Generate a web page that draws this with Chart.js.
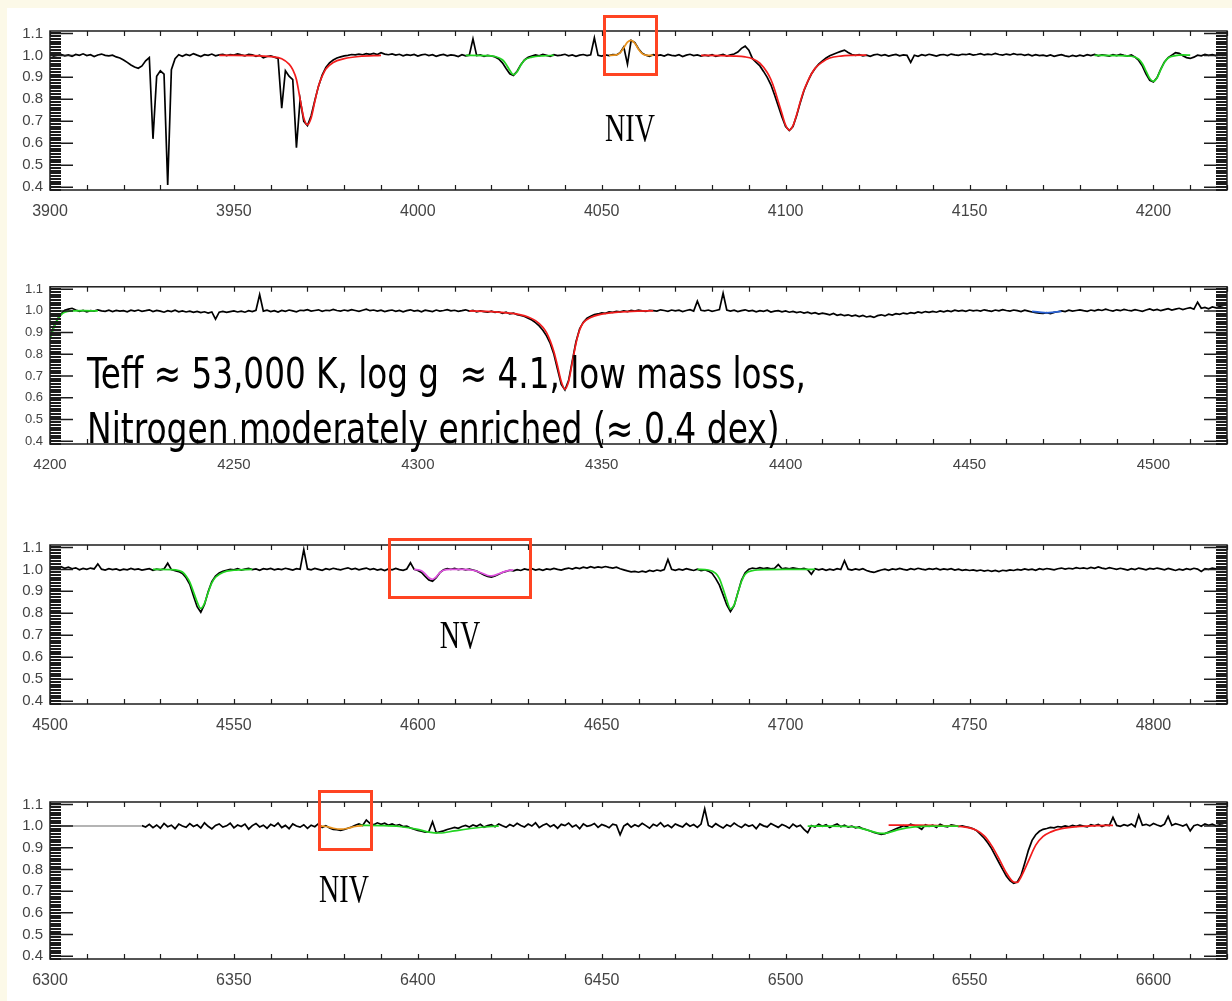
<!DOCTYPE html>
<html>
<head>
<meta charset="utf-8">
<script src="https://cdn.jsdelivr.net/npm/chart.js@4.4.1/dist/chart.umd.min.js"></script>
<style>
  html, body { margin: 0; padding: 0; }
  body { width: 1232px; height: 1001px; background: #fcf9e8; position: relative; overflow: hidden; }
  #sheet { position: absolute; left: 7px; top: 8px; right: 0; bottom: 0; background: #fff; }
  canvas.panel { position: absolute; left: 0; }
  .box { position: absolute; border: 3px solid #ff4422; box-sizing: border-box; }
  .ion { position: absolute; font-family: "Liberation Serif", "Times New Roman", serif; font-size: 28px; line-height: 28px; color: #000; white-space: nowrap; transform: translate(-50%, -50%) scale(1, 1.4); }
  .note { position: absolute; left: 87px; font-family: "DejaVu Sans Condensed", "DejaVu Sans", sans-serif; font-size: 42px; line-height: 42px; color: #000; white-space: nowrap; transform-origin: 0 50%; }
</style>
</head>
<body>
<div id="sheet"></div>

<script>
// y axis (normalised flux), shared by all four panels
const Y_MIN = 0.387, Y_MAX = 1.111;
const yTickValues = [0.4, 0.5, 0.6, 0.7, 0.8, 0.9, 1.0, 1.1];
const yTickLabels = ['0.4', '0.5', '0.6', '0.7', '0.8', '0.9', '1.0', '1.1'];
const X_SPAN = 320; // Angstrom shown per panel

// ---- panel 1 : 3900-4220 A, observed flux x1000 at 1 A steps ----
const p1Start = 3900;
const p1Ticks = [3900, 3950, 4000, 4050, 4100, 4150, 4200];
const p1Flux = [
  1003, 997, 1001, 1005, 998, 1002, 996, 1004, 1000, 1007,   // 3900
  999, 1003, 995, 1002, 1006, 1000, 998, 1001, 993, 988,     // 3910
  979, 968, 956, 947, 941, 952, 975, 990, 620, 905,          // 3920
  930, 915, 410, 935, 985, 1003, 996, 1004, 999, 1008,       // 3930
  1001, 995, 1003, 1000, 1006, 998, 1002, 1005, 999, 1004,   // 3940
  1001, 1007, 1002, 998, 1005, 1003, 996, 1001, 989, 995,    // 3950
  998, 992, 986, 760, 930, 905, 890, 580, 800, 700,          // 3960
  680, 725, 795, 860, 910, 945, 966, 979, 988, 993,          // 3970
  998, 1000, 1004, 1002, 1006, 1003, 1008, 1005, 1009, 1004, // 3980
  1012, 1006, 1003, 1007, 1001, 1005, 998, 1003, 1000, 1004, // 3990
  997, 1002, 1005, 999, 1003, 996, 1001, 1004, 998, 1002,    // 4000
  1000, 995, 1003, 998, 1001, 1075, 999, 1002, 996, 1000,    // 4010
  997, 993, 984, 966, 940, 916, 909, 928, 958, 979,          // 4020
  991, 997, 1002, 998, 1004, 1000, 996, 1003, 999, 1001,     // 4030
  1005, 998, 1002, 996, 1001, 1004, 999, 1003, 1080, 1000,   // 4040
  997, 1002, 999, 1004, 1002, 1012, 1038, 960, 1068, 1058,   // 4050
  1030, 1010, 1001, 996, 1003, 999, 1002, 997, 1004, 1000,   // 4060
  998, 1003, 995, 1001, 1005, 999, 1002, 997, 1001, 998,     // 4070
  1003, 996, 1000, 1004, 997, 1002, 1006, 1015, 1032, 1042,  // 4080
  1024, 985, 968, 952, 927, 900, 866, 820, 770, 720,         // 4090
  676, 658, 676, 726, 786, 840, 880, 915, 940, 960,          // 4100
  975, 988, 998, 1005, 1012, 1018, 1024, 1013, 1004, 1000,   // 4110
  1003, 998, 1001, 996, 1002, 1005, 999, 1003, 997, 1001,    // 4120
  1004, 998, 1002, 1000, 968, 1001, 996, 1003, 999, 1005,    // 4130
  1001, 997, 1002, 1004, 999, 1006, 1002, 1000, 1005, 1003,  // 4140
  1007, 1001, 1004, 1008, 1002, 1006, 1003, 1009, 1004, 1001, // 4150
  1006, 1002, 1008, 1003, 1005, 1000, 1004, 998, 1003, 999,  // 4160
  1001, 997, 1002, 996, 1000, 1003, 998, 994, 1000, 996,     // 4170
  1001, 997, 1003, 999, 1004, 998, 1002, 1000, 997, 1003,    // 4180
  999, 1004, 1000, 997, 1002, 992, 977, 951, 915, 886,       // 4190
  879, 899, 938, 970, 990, 1001, 1012, 1009, 998, 990,       // 4200
  986, 992, 1001, 998, 1004, 1000, 1003, 999, 1002, 1000     // 4210
];
// model fits, [wavelength, flux x1000]
const p1HepsFit = [[3946, 1000], [3950, 1000], [3955, 999], [3960, 994], [3963, 985], [3965, 960], [3966, 935], [3967, 890], [3968, 800], [3969, 715], [3970, 684], [3971, 715], [3972, 790], [3973, 860], [3974, 905], [3975, 938], [3977, 968], [3980, 985], [3984, 995], [3990, 1000]];
const p1HeIFit = [[4013, 1000], [4018, 999], [4021, 995], [4023, 980], [4024, 960], [4025, 932], [4026, 912], [4027, 925], [4028, 955], [4029, 978], [4031, 992], [4034, 998], [4037, 1000]];
const p1NIVFit = [[4052, 1000], [4054, 1002], [4055, 1012], [4056, 1035], [4057, 1060], [4058, 1068], [4059, 1055], [4060, 1028], [4061, 1008], [4062, 1001], [4064, 1000]];
const p1HdelFit = [[4077, 1000], [4082, 999], [4086, 997], [4089, 993], [4091, 985], [4093, 965], [4095, 922], [4096, 890], [4097, 845], [4098, 790], [4099, 735], [4100, 682], [4101, 660], [4102, 680], [4103, 730], [4104, 790], [4105, 842], [4106, 882], [4107, 915], [4108, 941], [4110, 970], [4112, 988], [4115, 997], [4118, 1000], [4122, 1001]];
const p1HeII4200Fit = [[4184, 1000], [4190, 999], [4194, 996], [4196, 983], [4197, 962], [4198, 928], [4199, 895], [4200, 882], [4201, 898], [4202, 935], [4203, 968], [4204, 988], [4206, 999], [4208, 1002], [4210, 1001]];

// ---- panel 2 : 4200-4520 A ----
const p2Start = 4200;
const p2Ticks = [4200, 4250, 4300, 4350, 4400, 4450, 4500];
const p2Flux = [
  880, 925, 962, 986, 1003, 1008, 1012, 1004, 998, 1002,     // 4200
  996, 1001, 999, 1005, 1000, 998, 1003, 997, 1002, 999,     // 4210
  1001, 996, 1003, 999, 1004, 998, 1001, 1005, 997, 1002,    // 4220
  999, 994, 1001, 997, 1003, 996, 1000, 995, 999, 993,       // 4230
  998, 992, 996, 990, 995, 962, 994, 998, 993, 997,          // 4240
  1000, 995, 999, 994, 1001, 997, 1003, 1075, 999, 1003,     // 4250
  997, 1001, 995, 1002, 998, 1004, 1000, 996, 1003, 1001,    // 4260
  1006, 999, 1002, 1005, 998, 1003, 1001, 1007, 1002, 999,   // 4270
  1004, 1000, 1006, 1002, 998, 1003, 1008, 1001, 1004, 999,  // 4280
  1003, 997, 1001, 1004, 998, 1002, 996, 1001, 1005, 999,    // 4290
  1002, 996, 1003, 1000, 997, 1004, 999, 1002, 1006, 1000,   // 4300
  1003, 998, 1001, 1005, 999, 1002, 996, 1000, 997, 994,     // 4310
  999, 993, 996, 989, 994, 986, 990, 983, 979, 974,          // 4320
  966, 958, 946, 931, 911, 885, 850, 800, 730, 662,          // 4330
  636, 680, 770, 858, 918, 948, 966, 975, 983, 986,          // 4340
  991, 989, 995, 993, 998, 996, 1000, 997, 1002, 999,        // 4350
  1004, 1000, 998, 1003, 1001, 999, 1005, 1002, 998, 1004,   // 4360
  1000, 1003, 997, 1002, 1006, 999, 1045, 1003, 1000, 1004,  // 4370
  998, 1002, 1006, 1082, 1004, 999, 1003, 997, 1001, 1005,   // 4380
  999, 1002, 996, 1001, 998, 1003, 995, 999, 1001, 996,      // 4390
  1000, 994, 998, 992, 996, 990, 994, 988, 992, 985,         // 4400
  990, 986, 982, 988, 980, 984, 978, 982, 976, 980,          // 4410
  974, 979, 972, 976, 970, 978, 982, 977, 985, 981,          // 4420
  987, 984, 990, 986, 992, 989, 995, 991, 997, 993,          // 4430
  998, 994, 1000, 996, 1001, 997, 1003, 999, 1002, 998,      // 4440
  1004, 1000, 1003, 999, 1005, 1001, 998, 1004, 1000, 1006,  // 4450
  1002, 999, 1004, 1001, 997, 1003, 999, 995, 992, 990,      // 4460
  988, 992, 987, 993, 996, 1000, 997, 1003, 999, 1002,       // 4470
  1005, 1001, 998, 1004, 1000, 1006, 1002, 1008, 1003, 999,  // 4480
  1005, 1001, 1007, 1003, 1000, 1006, 1002, 998, 1004, 1009, // 4490
  1003, 1007, 1001, 1006, 1010, 1004, 1008, 1012, 1006, 1011, // 4500
  1015, 1008, 1040, 1012, 1016, 1010, 1018, 1014, 1020, 1015  // 4510
];
const p2HeII4200Fit = [[4200, 870], [4201, 920], [4202, 958], [4203, 982], [4204, 994], [4206, 1000], [4209, 1001], [4213, 1000]];
const p2HgamFit = [[4314, 1000], [4320, 997], [4325, 990], [4328, 982], [4330, 972], [4332, 955], [4334, 925], [4335, 900], [4336, 862], [4337, 812], [4338, 745], [4339, 675], [4340, 640], [4341, 675], [4342, 762], [4343, 850], [4344, 912], [4345, 945], [4347, 970], [4350, 985], [4355, 995], [4360, 999], [4364, 1000]];
const p2HeI4471Fit = [[4467, 998], [4469, 994], [4471, 991], [4473, 994], [4475, 998]];

// ---- panel 3 : 4500-4820 A ----
const p3Start = 4500;
const p3Ticks = [4500, 4550, 4600, 4650, 4700, 4750, 4800];
const p3Flux = [
  1003, 1008, 1001, 1012, 1005, 1010, 1003, 1007, 998, 1004, // 4500
  1000, 1006, 1002, 1025, 1001, 997, 1003, 999, 1002, 996,   // 4510
  1001, 998, 1004, 999, 1002, 997, 1000, 1003, 996, 1001,    // 4520
  998, 1002, 1028, 999, 994, 990, 981, 962, 932, 880,        // 4530
  830, 805, 840, 898, 944, 970, 984, 991, 996, 1000,         // 4540
  998, 1003, 997, 1001, 1005, 999, 1002, 996, 1003, 1000,    // 4550
  1004, 998, 1002, 999, 1005, 1001, 997, 1003, 1000, 1090,   // 4560
  1002, 998, 1004, 1000, 996, 1003, 999, 1005, 1001, 998,    // 4570
  1003, 1007, 1000, 1004, 998, 1002, 1006, 999, 1003, 997,   // 4580
  1001, 995, 1002, 998, 1004, 999, 996, 1002, 1030, 1000,    // 4590
  995, 986, 968, 952, 946, 962, 985, 998, 1003, 1000,        // 4600
  1004, 999, 1002, 998, 1001, 997, 992, 984, 975, 968,       // 4610
  965, 970, 978, 986, 991, 996, 993, 999, 995, 1002,         // 4620
  998, 1003, 997, 1001, 996, 1002, 999, 1004, 1000, 997,     // 4630
  1002, 1006, 1001, 1008, 1004, 1010, 1006, 1012, 1007, 1011, // 4640
  1008, 1013, 1009, 1006, 1010, 1003, 998, 993, 989, 991,    // 4650
  987, 992, 988, 995, 991, 997, 993, 999, 1045, 1000,        // 4660
  996, 1001, 997, 1003, 999, 995, 1001, 994, 998, 992,       // 4670
  982, 958, 928, 884, 838, 808, 835, 893, 950, 985,          // 4680
  1001, 1006, 1003, 1008, 1004, 1007, 1002, 1005, 1022, 1003, // 4690
  1006, 1002, 1007, 1004, 1001, 1005, 999, 978, 1003, 998,   // 4700
  1002, 996, 1001, 997, 1003, 999, 1040, 1001, 997, 1002,    // 4710
  998, 1003, 995, 990, 986, 992, 997, 1001, 996, 1002,       // 4720
  999, 1004, 1000, 997, 1003, 999, 1005, 1001, 998, 1003,    // 4730
  1000, 1004, 998, 1002, 999, 1003, 997, 1001, 996, 999,     // 4740
  995, 998, 993, 997, 992, 996, 991, 995, 990, 996,          // 4750
  993, 998, 995, 1000, 997, 1002, 998, 1001, 996, 1003,      // 4760
  999, 1004, 1001, 998, 1003, 1006, 1001, 1005, 1002, 1008,  // 4770
  1004, 1007, 1003, 1009, 1005, 1011, 1006, 1002, 1008, 1004, // 4780
  1000, 1005, 1001, 997, 1003, 999, 1006, 1002, 998, 1004,   // 4790
  1001, 1006, 1002, 998, 1004, 1000, 995, 1001, 997, 1003,   // 4800
  999, 1005, 1001, 990, 1003, 1000, 1006, 1002, 1004, 1000   // 4810
];
const p3HeII4541Fit = [[4528, 1000], [4533, 999], [4535, 995], [4536, 988], [4537, 970], [4538, 942], [4539, 898], [4540, 852], [4541, 822], [4542, 845], [4543, 895], [4544, 938], [4545, 964], [4547, 986], [4550, 996], [4555, 1000]];
const p3NVFit = [[4599, 1000], [4601, 994], [4602, 980], [4603, 962], [4604, 955], [4605, 966], [4606, 985], [4607, 996], [4609, 1000], [4612, 1000], [4615, 996], [4617, 986], [4619, 972], [4620, 970], [4622, 980], [4624, 992], [4626, 998]];
const p3HeII4686Fit = [[4676, 1000], [4679, 997], [4681, 982], [4682, 958], [4683, 912], [4684, 860], [4685, 820], [4686, 838], [4687, 892], [4688, 945], [4689, 978], [4691, 994], [4695, 999], [4700, 1000], [4708, 1000]];

// ---- panel 4 : 6300-6620 A (data start at 6325) ----
const p4Start = 6325;
const p4Ticks = [6300, 6350, 6400, 6450, 6500, 6550, 6600];
const p4Flux = [
  1002, 996, 1008, 993, 1005,                                // 6325
  990, 1012, 997, 1004, 988, 1009, 1000, 994, 1011, 998,     // 6330
  1006, 991, 1015, 999, 987, 1003, 1010, 995, 1001, 1013,    // 6340
  992, 1005, 998, 1009, 986, 1002, 1012, 996, 1004, 990,     // 6350
  1008, 999, 1014, 993, 1003, 988, 1010, 1000, 995, 1006,    // 6360
  989, 1004, 997, 1011, 994, 1002, 991, 985, 983, 980,       // 6370
  984, 990, 996, 1004, 1010, 1003, 1028, 1012, 1006, 1015,   // 6380
  1008, 1013, 1004, 1010, 1002, 1007, 998, 1000, 991, 986,   // 6390
  980, 976, 972, 975, 1020, 969, 974, 978, 984, 989,         // 6400
  994, 990, 998, 1003, 996, 1005, 999, 1008, 995, 1002,      // 6410
  1006, 997, 1010, 1001, 994, 1007, 999, 1013, 1003, 996,    // 6420
  1009, 1000, 1015, 993, 1004, 1011, 997, 1006, 990, 1008,   // 6430
  1002, 1014, 996, 1005, 988, 1010, 999, 1003, 1012, 994,    // 6440
  1007, 1001, 992, 1009, 1004, 960, 1000, 1011, 995, 1006,   // 6450
  998, 1013, 1002, 990, 1008, 1000, 1016, 997, 1005, 993,    // 6460
  1010, 1002, 996, 1012, 999, 1007, 994, 1009, 1080, 1003,   // 6470
  995, 1011, 1000, 991, 1006, 998, 1014, 1002, 993, 1008,    // 6480
  999, 1005, 988, 1010, 1001, 996, 1012, 1003, 994, 1007,    // 6490
  1000, 990, 1009, 997, 1004, 985, 970, 1002, 996, 1008,     // 6500
  999, 1006, 993, 1003, 1010, 997, 1004, 995, 1000, 992,     // 6510
  996, 988, 983, 977, 971, 966, 962, 965, 972, 980,          // 6520
  988, 994, 1002, 998, 1009, 1003, 996, 985, 1006, 999,      // 6530
  1004, 994, 1008, 1000, 996, 1005, 1002, 998, 1001, 997,    // 6540
  993, 988, 978, 962, 944, 922, 896, 864, 832, 800,          // 6550
  770, 748, 736, 742, 772, 828, 888, 934, 960, 976,          // 6560
  985, 989, 994, 992, 998, 995, 1001, 997, 1003, 999,        // 6570
  1004, 1000, 996, 1006, 1001, 1008, 998, 1005, 1002, 1040,  // 6580
  1003, 999, 1006, 1001, 1010, 997, 1050, 1004, 1008, 1001,  // 6590
  1012, 1005, 999, 1009, 1045, 1003, 1011, 1006, 1000, 1008, // 6600
  978, 1002, 1007, 999, 1010, 1004, 1009, 1001, 1006, 1003   // 6610
];
const p4GapLine = [[6300, 1000], [6325, 1000]];
const p4NIVFit = [[6373, 1000], [6375, 998], [6377, 990], [6379, 986], [6381, 990], [6383, 998], [6385, 1002]];
const p4HeI6404Fit = [[6384, 1003], [6390, 1002], [6395, 998], [6400, 985], [6403, 972], [6406, 968], [6410, 978], [6415, 990], [6420, 998], [6422, 1000]];
const p4HeII6527Fit = [[6506, 1000], [6512, 1000], [6517, 998], [6520, 992], [6523, 978], [6526, 966], [6528, 970], [6531, 985], [6535, 996], [6540, 1000], [6547, 1000]];
const p4HalpFit = [[6528, 1004], [6535, 1004], [6540, 1003], [6545, 1001], [6548, 997], [6550, 992], [6552, 980], [6554, 955], [6556, 910], [6558, 850], [6560, 785], [6562, 742], [6563, 740], [6564, 765], [6566, 838], [6568, 912], [6570, 952], [6572, 972], [6575, 988], [6580, 998], [6585, 1002], [6589, 1003]];

const RED = '#f21c1c', GREEN = '#22d422', ORANGE = '#e8921e', MAGENTA = '#e052e0', BLUE = '#2a62d6';

const panels = [
  { start: p1Start, ticks: p1Ticks, flux: p1Flux, top: 27, h: 163, xSize: 16, ySize: 15,
    fits: [[p1HepsFit, RED], [p1HeIFit, GREEN], [p1NIVFit, ORANGE], [p1HdelFit, RED], [p1HeII4200Fit, GREEN]] },
  { start: p2Start, ticks: p2Ticks, flux: p2Flux, top: 284, h: 160, xSize: 15, ySize: 13,
    fits: [[p2HeII4200Fit, GREEN], [p2HgamFit, RED], [p2HeI4471Fit, BLUE]] },
  { start: p3Start, ticks: p3Ticks, flux: p3Flux, top: 541, h: 163, xSize: 16, ySize: 15,
    fits: [[p3HeII4541Fit, GREEN], [p3NVFit, MAGENTA], [p3HeII4686Fit, GREEN]] },
  { start: p4Start, axisStart: 6300, ticks: p4Ticks, flux: p4Flux, top: 798, h: 161, xSize: 16, ySize: 15,
    gap: p4GapLine,
    fits: [[p4NIVFit, ORANGE], [p4HeI6404Fit, GREEN], [p4HeII6527Fit, GREEN], [p4HalpFit, RED]] }
];

function spectrumPoints(start, flux) {
  return flux.map((f, i) => ({ x: start + i, y: f / 1000 }));
}
function pairPoints(list) {
  return list.map(p => ({ x: p[0], y: p[1] / 1000 }));
}

// IDL style frame: inward ticks, dense minor comb on the y sides
const idlFrame = {
  id: 'idlFrame',
  afterDatasetsDraw(chart) {
    const { ctx, chartArea: a } = chart;
    const x = chart.scales.x, y = chart.scales.y;
    ctx.save();
    ctx.strokeStyle = '#1c1c1c';
    ctx.lineWidth = 1.5;
    ctx.strokeRect(a.left, a.top, a.right - a.left, a.bottom - a.top);

    ctx.lineWidth = 1.2;
    ctx.beginPath();
    for (let k = Math.ceil(x.min / 10); k * 10 <= x.max; k++) {
      const px = Math.round(x.getPixelForValue(k * 10)) + 0.5;
      ctx.moveTo(px, a.bottom); ctx.lineTo(px, a.bottom - 5);
      ctx.moveTo(px, a.top); ctx.lineTo(px, a.top + 5);
    }
    ctx.stroke();

    // minor comb: 2 px bars, snapped to whole pixels
    ctx.lineWidth = 2;
    ctx.beginPath();
    for (let j = -1; j <= 58; j++) {
      const v = 0.4 + j * 0.0125;
      if (v < y.min || v > y.max) continue;
      const py = Math.round(y.getPixelForValue(v));
      ctx.moveTo(a.left, py); ctx.lineTo(a.left + 11, py);
      ctx.moveTo(a.right, py); ctx.lineTo(a.right - 11, py);
    }
    ctx.stroke();

    ctx.lineWidth = 1.5;
    ctx.beginPath();
    yTickValues.forEach(v => {
      const py = y.getPixelForValue(v);
      ctx.moveTo(a.left, py); ctx.lineTo(a.left + 23, py);
      ctx.moveTo(a.right, py); ctx.lineTo(a.right - 23, py);
    });
    ctx.stroke();
    ctx.restore();
  }
};

function makePanel(p) {
  const canvas = document.createElement('canvas');
  canvas.className = 'panel';
  canvas.width = 1232;
  canvas.height = p.h + 12 + 34;
  canvas.style.top = (p.top - 12) + 'px';
  document.body.appendChild(canvas);

  const datasets = p.fits.map(([pts, color]) => ({
    data: pairPoints(pts), borderColor: color, borderWidth: 1.7,
    pointRadius: 0, tension: 0.4, cubicInterpolationMode: 'monotone', fill: false
  }));
  if (p.gap) {
    datasets.push({ data: pairPoints(p.gap), borderColor: '#b4b4b4', borderWidth: 2, pointRadius: 0 });
  }
  datasets.push({ data: spectrumPoints(p.start, p.flux), borderColor: '#000', borderWidth: 1.7, pointRadius: 0, tension: 0 });

  const x0 = p.axisStart || p.start;
  const labelFont = 'Liberation Sans, Arial, Helvetica, sans-serif';

  new Chart(canvas, {
    type: 'line',
    data: { datasets },
    options: {
      responsive: false,
      animation: false,
      events: [],
      layout: { padding: { top: 12, right: 5, left: 0, bottom: 0 } },
      plugins: { legend: { display: false }, tooltip: { enabled: false } },
      scales: {
        x: {
          type: 'linear', min: x0, max: x0 + X_SPAN,
          grid: { display: false, drawTicks: false },
          border: { display: false },
          afterBuildTicks: s => { s.ticks = p.ticks.map(v => ({ value: v })); },
          afterFit: s => { s.height = 34; },
          ticks: {
            padding: 12, color: '#444', autoSkip: false, maxRotation: 0,
            font: { family: labelFont, size: p.xSize },
            callback: v => String(v)
          }
        },
        y: {
          min: Y_MIN, max: Y_MAX,
          grid: { display: false, drawTicks: false },
          border: { display: false },
          afterBuildTicks: s => { s.ticks = yTickValues.map(v => ({ value: v })); },
          afterFit: s => { s.width = 50; },
          ticks: {
            padding: 7, color: '#444', autoSkip: false,
            font: { family: labelFont, size: p.ySize },
            callback: (v, i) => yTickLabels[i]
          }
        }
      }
    },
    plugins: [idlFrame]
  });
}

panels.forEach(makePanel);
</script>

<div class="box" style="left:603px; top:15px; width:55px; height:61px;"></div>
<div class="box" style="left:388px; top:538px; width:144px; height:61px;"></div>
<div class="box" style="left:318px; top:790px; width:55px; height:61px;"></div>

<div class="ion" style="left:630px; top:128px;">NIV</div>
<div class="ion" style="left:460px; top:635px;">NV</div>
<div class="ion" style="left:344px; top:889px;">NIV</div>

<div class="note" data-w="719" style="top:353px;">Teff ≈ 53,000 K, log g &nbsp;≈ 4.1, low mass loss,</div>
<div class="note" data-w="693" style="top:408px;">Nitrogen moderately enriched (≈ 0.4 dex)</div>

<script>
document.querySelectorAll('.note').forEach(el => {
  const target = Number(el.dataset.w);
  el.style.transform = 'scaleX(' + (target / el.offsetWidth) + ')';
});
</script>
</body>
</html>
